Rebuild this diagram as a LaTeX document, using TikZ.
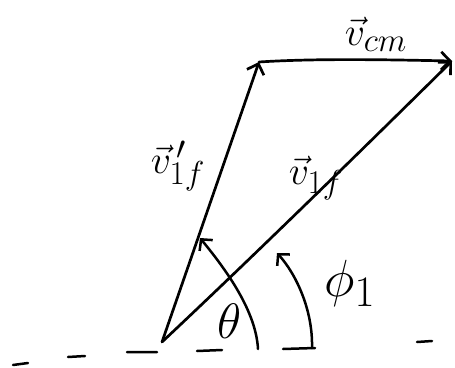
\documentclass[tikz,border=0pt]{standalone}
\usepackage{graphicx}
\usetikzlibrary{arrows.meta}
\begin{document}
\begin{tikzpicture}[x=1pt,y=-1pt,
  vecline/.style={line width=2.7pt, line cap=round, line join=round,
    -{Straight Barb[length=9pt,width=18pt,line width=2.7pt]}},
  anglearc/.style={line width=2.5pt, line cap=round,
    -{Straight Barb[length=8pt,width=17pt,line width=2.5pt]}},
  dashline/.style={line width=2.5pt, line cap=round},
  lbl/.style={font=\Huge, inner sep=0pt}]
\useasboundingbox (0,0) rectangle (455,367);
\coordinate (O) at (162,342);
\coordinate (T) at (259,62);
\coordinate (R) at (452,61);
% ground line (dashed)
\draw[dashline] (13,365) -- (28,363) (68,357) -- (85,356) (127,352) -- (157,352)
  (197,351) -- (222,350) (283,349) -- (315,348) (417,342) -- (432,341);
% vectors
\draw[vecline] (O) -- (T);
\draw[vecline] (T) .. controls (320,58) and (400,60) .. (R);
\draw[vecline] (O) .. controls (260,250) and (380,132) .. (R);
% angle arcs
\coordinate (thS) at (258,349);
\coordinate (thE) at (200,238);
\coordinate (phS) at (312,348);
\coordinate (phE) at (277,253);
\draw[anglearc] (thS) .. controls (256,312) and (228,272) .. (thE);
\draw[anglearc] (phS) .. controls (313,310) and (296,274) .. (phE);
% labels
\node[lbl] (vcm) at (376,34) {\scalebox{1.6}{$\vec{v}_{cm}$}};
\node[lbl] (v1fp) at (178,166) {\scalebox{1.6}{$\vec{v}^{\,\prime}_{1f}$}};
\node[lbl] (v1f) at (316,178) {\scalebox{1.6}{$\vec{v}_{1f}$}};
\node[lbl] (th) at (230,321) {\scalebox{2}{$\theta$}};
\node[lbl] (ph) at (350,283) {\scalebox{2.1}{$\phi_1$}};
\end{tikzpicture}
\end{document}
